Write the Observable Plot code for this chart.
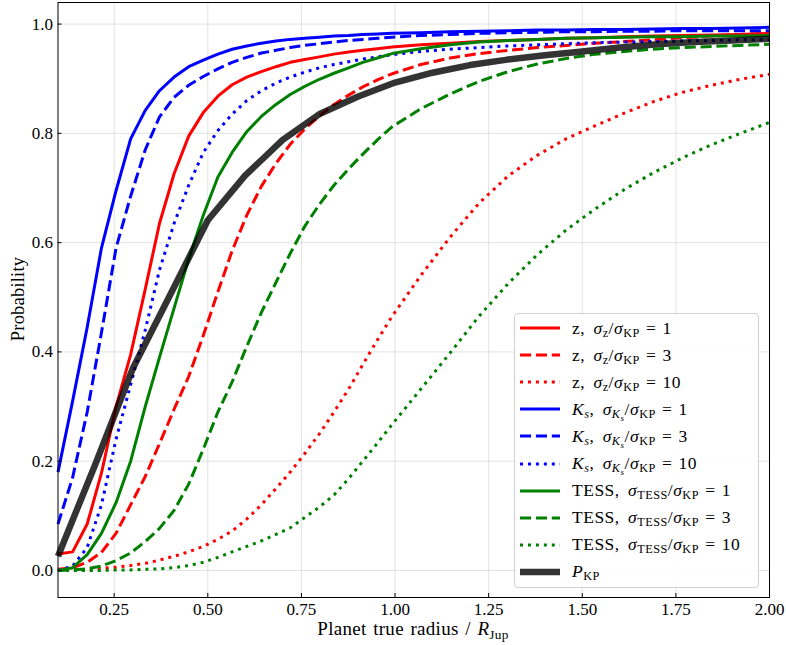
<!DOCTYPE html>
<html>
<head>
<meta charset="utf-8">
<script src="https://cdn.jsdelivr.net/npm/d3@7"></script>
<script src="https://cdn.jsdelivr.net/npm/@observablehq/plot@0.6"></script>
<style>
  body { margin: 0; background: #fff; }
  #wrap { position: relative; width: 786px; height: 645px; font-family: "Liberation Serif", serif; color: #000; }
  #wrap > svg { position: absolute; left: 0; top: 0; }
  .math sub { font-size: 70%; vertical-align: -0.28em; line-height: 0; }
  .math sub sub { font-size: 75%; }
  #xlabel { position: absolute; left: 57px; width: 712px; top: 618px; text-align: center; font-size: 19px; word-spacing: 1.5px; letter-spacing: 0.3px; white-space: nowrap; }
  #ylabel { position: absolute; left: 18px; top: 299px; transform: translate(-50%, -50%) rotate(-90deg); font-size: 18.5px; letter-spacing: 0.2px; white-space: nowrap; }
  #legend { position: absolute; left: 514px; top: 313px; width: 243px; height: 272px; padding-top: 0.5px;
            border: 1px solid #d0d0d0; border-radius: 4px; background: rgba(255,255,255,0.85); box-sizing: content-box; }
  .row { height: 27.1px; display: flex; align-items: center; font-size: 17.5px; letter-spacing: 0.5px; white-space: nowrap; }
  .row .swatch { display: block; margin-left: 5px; margin-right: 12px; flex: none; }
  .row .eq { margin: 0 0.35em; }
  .row .sep { margin-right: 0.2em; }
</style>
</head>
<body>
<div id="wrap"></div>
<script>
// Planet true radius grid (R_Jup) shared by the nine instrument curves
const radius = [0.100, 0.139, 0.178, 0.216, 0.255, 0.294, 0.333, 0.371, 0.410, 0.449, 0.488, 0.527,
                0.565, 0.604, 0.643, 0.682, 0.720, 0.759, 0.798, 0.837, 0.876, 0.914, 0.953, 0.992,
                1.069, 1.147, 1.224, 1.302, 1.380, 1.457, 1.535, 1.612, 1.690, 1.767, 1.845, 1.922, 2.000];

// z band
const zSigma1  = [0.030, 0.034, 0.085, 0.178, 0.300, 0.395, 0.515, 0.635, 0.726, 0.795, 0.838, 0.868,
                  0.889, 0.903, 0.913, 0.922, 0.930, 0.935, 0.940, 0.945, 0.949, 0.952, 0.955, 0.958,
                  0.962, 0.965, 0.968, 0.970, 0.972, 0.974, 0.975, 0.977, 0.978, 0.979, 0.980, 0.981, 0.983];
const zSigma3  = [0.002, 0.005, 0.015, 0.033, 0.068, 0.120, 0.172, 0.232, 0.295, 0.355, 0.430, 0.510,
                  0.585, 0.650, 0.703, 0.745, 0.780, 0.808, 0.832, 0.853, 0.870, 0.885, 0.898, 0.909,
                  0.926, 0.938, 0.946, 0.952, 0.957, 0.961, 0.965, 0.968, 0.971, 0.975, 0.978, 0.981, 0.983];
const zSigma10 = [0.000, 0.001, 0.002, 0.004, 0.006, 0.009, 0.013, 0.019, 0.026, 0.034, 0.044, 0.057,
                  0.072, 0.094, 0.120, 0.150, 0.180, 0.214, 0.250, 0.290, 0.332, 0.377, 0.422, 0.465,
                  0.540, 0.610, 0.672, 0.722, 0.760, 0.790, 0.814, 0.837, 0.858, 0.875, 0.888, 0.899, 0.908];

// Ks band
const ksSigma1  = [0.180, 0.310, 0.445, 0.590, 0.695, 0.790, 0.842, 0.878, 0.903, 0.922, 0.934, 0.945,
                   0.954, 0.960, 0.965, 0.969, 0.972, 0.974, 0.976, 0.978, 0.979, 0.981, 0.982, 0.983,
                   0.984, 0.986, 0.987, 0.988, 0.989, 0.989, 0.990, 0.990, 0.991, 0.992, 0.992, 0.993, 0.994];
const ksSigma3  = [0.085, 0.170, 0.290, 0.435, 0.590, 0.685, 0.770, 0.830, 0.866, 0.888, 0.904, 0.918,
                   0.930, 0.939, 0.947, 0.952, 0.957, 0.961, 0.964, 0.967, 0.970, 0.972, 0.974, 0.976,
                   0.979, 0.981, 0.983, 0.984, 0.985, 0.986, 0.986, 0.987, 0.987, 0.988, 0.988, 0.988, 0.988];
const ksSigma10 = [0.000, 0.008, 0.042, 0.120, 0.240, 0.340, 0.440, 0.550, 0.635, 0.705, 0.765, 0.805,
                   0.835, 0.860, 0.878, 0.892, 0.903, 0.912, 0.920, 0.926, 0.931, 0.936, 0.940, 0.944,
                   0.950, 0.954, 0.957, 0.960, 0.962, 0.964, 0.966, 0.967, 0.968, 0.969, 0.970, 0.971, 0.972];

// TESS band
const tessSigma1  = [0.000, 0.005, 0.029, 0.068, 0.124, 0.200, 0.300, 0.390, 0.480, 0.570, 0.650, 0.720,
                     0.765, 0.803, 0.831, 0.853, 0.871, 0.886, 0.899, 0.910, 0.920, 0.930, 0.938, 0.946,
                     0.955, 0.962, 0.967, 0.970, 0.972, 0.974, 0.975, 0.976, 0.977, 0.977, 0.978, 0.978, 0.979];
const tessSigma3  = [0.000, 0.001, 0.003, 0.008, 0.018, 0.032, 0.053, 0.077, 0.110, 0.158, 0.222, 0.290,
                     0.345, 0.410, 0.472, 0.527, 0.580, 0.630, 0.670, 0.705, 0.735, 0.762, 0.788, 0.812,
                     0.845, 0.872, 0.895, 0.913, 0.927, 0.937, 0.945, 0.950, 0.954, 0.957, 0.959, 0.961, 0.963];
const tessSigma10 = [0.000, 0.000, 0.000, 0.000, 0.001, 0.001, 0.002, 0.003, 0.005, 0.009, 0.015, 0.024,
                     0.034, 0.044, 0.054, 0.066, 0.078, 0.097, 0.116, 0.138, 0.168, 0.200, 0.233, 0.267,
                     0.332, 0.398, 0.465, 0.525, 0.578, 0.623, 0.662, 0.697, 0.728, 0.755, 0.779, 0.800, 0.820];

// Combined probability, on a coarser radius grid
const kpRadius = [0.1, 0.2, 0.3, 0.4, 0.5, 0.6, 0.7, 0.8, 0.9, 1.0, 1.1, 1.2, 1.3, 1.4, 1.5, 1.6, 1.7, 1.8, 1.9, 2.0];
const pKP      = [0.026, 0.195, 0.370, 0.505, 0.641, 0.723, 0.788, 0.836, 0.867, 0.893, 0.911, 0.925,
                  0.935, 0.943, 0.950, 0.957, 0.963, 0.967, 0.970, 0.973];

const xTicks = [0.25, 0.50, 0.75, 1.00, 1.25, 1.50, 1.75, 2.00];
const yTicks = [0.0, 0.2, 0.4, 0.6, 0.8, 1.0];

const dashStyles = {solid: null, dashed: "11.1,4.8", dotted: "3,4.95"};

const eq = n => `<span class="eq">=</span>${n}`;
const series = [
  {values: zSigma1,    color: "#ff0000", dash: "solid",  label: `<span class="sep">z,</span> <i>σ</i><sub>z</sub>/<i>σ</i><sub>KP</sub>${eq(1)}`},
  {values: zSigma3,    color: "#ff0000", dash: "dashed", label: `<span class="sep">z,</span> <i>σ</i><sub>z</sub>/<i>σ</i><sub>KP</sub>${eq(3)}`},
  {values: zSigma10,   color: "#ff0000", dash: "dotted", label: `<span class="sep">z,</span> <i>σ</i><sub>z</sub>/<i>σ</i><sub>KP</sub>${eq(10)}`},
  {values: ksSigma1,   color: "#0000ff", dash: "solid",  label: `<span class="sep"><i>K</i><sub><i>s</i></sub>,</span> <i>σ</i><sub><i>K</i><sub><i>s</i></sub></sub>/<i>σ</i><sub>KP</sub>${eq(1)}`},
  {values: ksSigma3,   color: "#0000ff", dash: "dashed", label: `<span class="sep"><i>K</i><sub><i>s</i></sub>,</span> <i>σ</i><sub><i>K</i><sub><i>s</i></sub></sub>/<i>σ</i><sub>KP</sub>${eq(3)}`},
  {values: ksSigma10,  color: "#0000ff", dash: "dotted", label: `<span class="sep"><i>K</i><sub><i>s</i></sub>,</span> <i>σ</i><sub><i>K</i><sub><i>s</i></sub></sub>/<i>σ</i><sub>KP</sub>${eq(10)}`},
  {values: tessSigma1, color: "#008000", dash: "solid",  label: `<span class="sep">TESS,</span> <i>σ</i><sub>TESS</sub>/<i>σ</i><sub>KP</sub>${eq(1)}`},
  {values: tessSigma3, color: "#008000", dash: "dashed", label: `<span class="sep">TESS,</span> <i>σ</i><sub>TESS</sub>/<i>σ</i><sub>KP</sub>${eq(3)}`},
  {values: tessSigma10,color: "#008000", dash: "dotted", label: `<span class="sep">TESS,</span> <i>σ</i><sub>TESS</sub>/<i>σ</i><sub>KP</sub>${eq(10)}`}
];

const lineMarks = series.map(s =>
  Plot.line(radius.map((r, i) => ({r, p: s.values[i]})), {
    x: "r", y: "p", stroke: s.color, strokeWidth: 3,
    strokeDasharray: dashStyles[s.dash], strokeLinecap: "butt", strokeLinejoin: "round"
  })
);

const kpMark = Plot.line(kpRadius.map((r, i) => ({r, p: pKP[i]})), {
  x: "r", y: "p", stroke: "#000", strokeOpacity: 0.8, strokeWidth: 6.5,
  strokeLinecap: "butt", strokeLinejoin: "round"
});

const chart = Plot.plot({
  width: 786,
  height: 645,
  marginLeft: 57.5,
  marginRight: 17,
  marginTop: 2,
  marginBottom: 48,
  style: {fontFamily: "'Liberation Serif', serif", fontSize: "17px", color: "#000", background: "transparent", overflow: "visible"},
  x: {domain: [0.1, 2.0]},
  y: {domain: [-0.0495, 1.0395]},
  marks: [
    Plot.gridX(xTicks, {stroke: "#b0b0b0", strokeOpacity: 0.35, strokeWidth: 1}),
    Plot.gridY(yTicks, {stroke: "#b0b0b0", strokeOpacity: 0.35, strokeWidth: 1}),
    ...lineMarks,
    kpMark,
    Plot.frame({stroke: "#000", strokeWidth: 1}),
    Plot.axisX(xTicks, {tickSize: -4, tickPadding: 9, tickFormat: d3.format(".2f"), label: null, fill: "#000"}),
    Plot.axisY(yTicks, {tickSize: -4, tickPadding: 9, tickFormat: d3.format(".1f"), label: null, fill: "#000"})
  ]
});

const wrap = document.getElementById("wrap");
wrap.appendChild(chart);

// Axis titles
const xl = document.createElement("div");
xl.id = "xlabel"; xl.className = "math";
xl.innerHTML = `Planet true radius / <i>R</i><sub>Jup</sub>`;
wrap.appendChild(xl);

const yl = document.createElement("div");
yl.id = "ylabel";
yl.textContent = "Probability";
wrap.appendChild(yl);

// Legend
const legend = document.createElement("div");
legend.id = "legend";
const entries = [
  ...series.map(s => ({color: s.color, dash: dashStyles[s.dash], width: 3, opacity: 1, label: s.label})),
  {color: "#000", dash: null, width: 6.5, opacity: 0.8, label: `<i>P</i><sub>KP</sub>`}
];
for (const e of entries) {
  const row = document.createElement("div");
  row.className = "row math";
  row.innerHTML =
    `<svg class="swatch" width="40" height="10"><line x1="0" y1="5" x2="40" y2="5" stroke="${e.color}" stroke-opacity="${e.opacity}" stroke-width="${e.width}"${e.dash ? ` stroke-dasharray="${e.dash}"` : ""}/></svg>` +
    `<span>${e.label}</span>`;
  legend.appendChild(row);
}
wrap.appendChild(legend);
</script>
</body>
</html>
